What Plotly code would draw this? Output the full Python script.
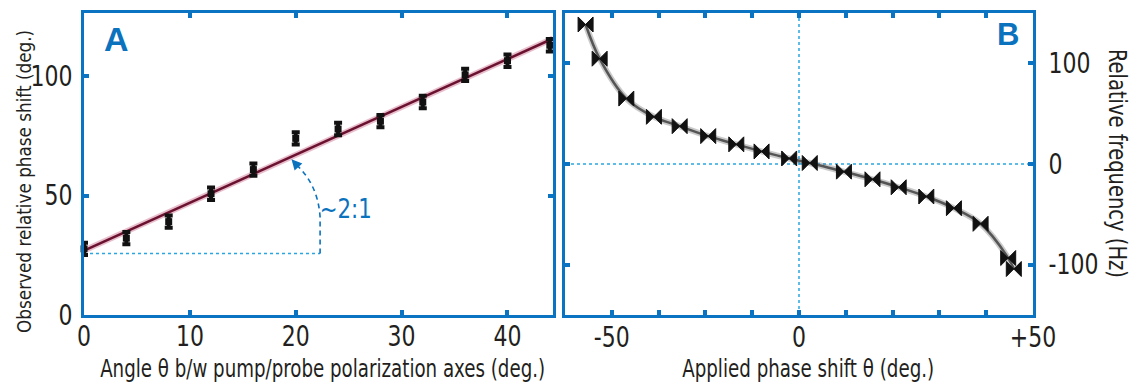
import numpy as np
import plotly.graph_objects as go

# ---------------- data ----------------
# Panel A: angle between pump/probe polarization axes vs observed phase shift
a_theta = [0, 4, 8, 12, 16, 20, 24, 28, 32, 36, 40, 44]
a_shift = [27.7, 32.2, 39.1, 50.8, 60.9, 74.0, 77.9, 81.2, 89.2, 100.6, 106.5, 113.0]
a_err = [2.6, 2.6, 2.6, 2.6, 2.6, 2.6, 2.6, 2.6, 2.6, 2.6, 2.6, 2.6]

# Panel B: applied phase shift vs relative frequency
b_theta = [-45.6, -42.6, -36.9, -31.0, -25.5, -19.4, -13.4, -8.0, -2.1, 2.3,
           9.6, 15.7, 21.3, 27.2, 33.1, 38.8, 44.7, 45.9]
b_freq = [138.6, 104.6, 65.0, 46.9, 37.6, 27.7, 19.5, 12.5, 5.5, 1.0,
          -7.6, -15.2, -23.1, -32.3, -43.9, -59.4, -93.4, -104.3]

# tick labels
a_xticks = [0, 10, 20, 30, 40]
a_yticks = [0, 50, 100]
b_xtickvals = [-50, -40, -30, -20, -10, 0, 10, 20, 30, 40, 50]
b_xticktext = ["", "-50", "", "", "", "0", "", "", "", "", "+50"]
b_ytickvals = [-100, 0, 100]
b_yticktext = ["-100", "0", "100"]

# ---------------- style ----------------
W, H = 1142, 386
L, R, T, B = 84, 1033, 10, 315
FRAME = "#0a73c2"
LIGHT = "#2aa7e1"
DARKBLUE = "#0b72bd"
TXT = "#231f20"
FONT = "DejaVu Sans Condensed, Liberation Sans Narrow, sans-serif"

def px(xp):
    return (xp - L) / (R - L)

def py(yp):
    return (B - yp) / (B - T)

A_XMAX = 44.3
dom_a = [0, px(553)]
dom_b = [px(565), 1]

fig = go.Figure()

# Fit line for panel A
coef = np.polyfit(a_theta, a_shift, 1)
fx = np.array([0.0, A_XMAX])
fy = np.polyval(coef, fx)
fig.add_trace(go.Scatter(x=fx, y=fy, mode="lines", xaxis="x", yaxis="y",
                         line=dict(color="rgba(190,70,110,0.35)", width=6),
                         hoverinfo="skip", showlegend=False))
fig.add_trace(go.Scatter(x=fx, y=fy, mode="lines", xaxis="x", yaxis="y",
                         line=dict(color="#6a1230", width=2.5),
                         hoverinfo="skip", showlegend=False))

fig.add_trace(go.Scatter(x=a_theta, y=a_shift, mode="markers", xaxis="x", yaxis="y",
                         marker=dict(symbol="square", size=7, color="#111"),
                         error_y=dict(type="data", array=a_err, color="#111",
                                      thickness=4, width=4),
                         cliponaxis=False, showlegend=False))

# Panel B curve + points
fig.add_trace(go.Scatter(x=b_theta, y=b_freq, mode="lines", xaxis="x2", yaxis="y2",
                         line=dict(color="rgba(80,80,80,0.3)", width=6, shape="spline"),
                         hoverinfo="skip", showlegend=False))
fig.add_trace(go.Scatter(x=b_theta, y=b_freq, mode="lines+markers", xaxis="x2", yaxis="y2",
                         line=dict(color="#555", width=2.5, shape="spline"),
                         marker=dict(symbol="bowtie", size=15, color="#111",
                                     line=dict(color="#111", width=1)),
                         cliponaxis=False, showlegend=False))

axis_common = dict(showline=True, linecolor=FRAME, linewidth=3, mirror="ticks",
                   ticks="inside", ticklen=5, tickwidth=4, tickcolor=FRAME,
                   showgrid=False, zeroline=False,
                   tickfont=dict(family=FONT, size=28, color=TXT))

fig.update_layout(
    width=W, height=H,
    margin=dict(l=L, r=W - R, t=T, b=H - B, pad=0),
    paper_bgcolor="white", plot_bgcolor="white",
    xaxis=dict(domain=dom_a, range=[0, A_XMAX], anchor="y", tickmode="array",
               tickvals=a_xticks, ticklabelstandoff=-6, **axis_common),
    yaxis=dict(domain=[0, 1], range=[0, 126.5], anchor="x", tickmode="array",
               tickvals=a_yticks, ticklabelstandoff=3, **axis_common),
    xaxis2=dict(domain=dom_b, range=[-50, 50], anchor="y2", tickmode="array",
                tickvals=b_xtickvals, ticktext=b_xticktext, ticklabelstandoff=-5,
                **axis_common),
    yaxis2=dict(domain=[0, 1], range=[-150, 150], anchor="x2", side="right",
                tickmode="array", tickvals=b_ytickvals, ticktext=b_yticktext,
                ticklabelstandoff=7, **axis_common),
)

# Panel B guide lines
fig.add_shape(type="line", xref="x2", yref="y2", x0=0, x1=0, y0=-150, y1=150,
              line=dict(color=LIGHT, width=1.5, dash="3px,3px"), layer="below")
fig.add_shape(type="line", xref="x2", yref="y2", x0=-50, x1=50, y0=0, y1=0,
              line=dict(color=LIGHT, width=1.5, dash="3px,3px"), layer="below")

# Panel A slope guide
base_y = 25.8
corner_x = 22.3
fig.add_shape(type="line", xref="x", yref="y", x0=0, x1=corner_x, y0=base_y, y1=base_y,
              line=dict(color=LIGHT, width=1.5, dash="3px,3px"), layer="below")
fig.add_shape(type="path", xref="x", yref="y",
              path=f"M {corner_x},{base_y} L {corner_x},41 Q 22.1,55 19.9,63.6",
              line=dict(color=DARKBLUE, width=1.6, dash="5px,4px"))
fig.add_annotation(x=19.6, y=65.2, xref="x", yref="y", ax=20.25, ay=62.0,
                   axref="x", ayref="y", text="", showarrow=True, arrowhead=2,
                   arrowsize=1.3, arrowwidth=1.6, arrowcolor=DARKBLUE)
fig.add_annotation(x=24.7, y=44.5, xref="x", yref="y", text="~2:1",
                   showarrow=False, xanchor="center", yanchor="middle",
                   font=dict(family=FONT, size=27, color=DARKBLUE))

# Panel letters
fig.add_annotation(x=px(102), y=py(36), xref="paper", yref="paper", text="<b>A</b>",
                   showarrow=False, xanchor="left", yanchor="middle",
                   font=dict(family="Liberation Sans, Arial, sans-serif", size=34, color=DARKBLUE))
fig.add_annotation(x=px(1021), y=py(32), xref="paper", yref="paper", text="<b>B</b>",
                   showarrow=False, xanchor="right", yanchor="middle",
                   font=dict(family="Liberation Sans, Arial, sans-serif", size=31, color=DARKBLUE))

# Axis titles
tfont = dict(family=FONT, size=25, color=TXT)
fig.add_annotation(x=px(322), y=py(369), xref="paper", yref="paper",
                   text="Angle θ b/w pump/probe polarization axes (deg.)",
                   showarrow=False, xanchor="center", yanchor="middle", font=tfont)
fig.add_annotation(x=px(24), y=py(180), xref="paper", yref="paper",
                   text="Observed relative phase shift (deg.)", textangle=-90,
                   showarrow=False, xanchor="center", yanchor="middle",
                   font=dict(family=FONT, size=19, color=TXT))
fig.add_annotation(x=px(808), y=py(369), xref="paper", yref="paper",
                   text="Applied phase shift θ (deg.)",
                   showarrow=False, xanchor="center", yanchor="middle", font=tfont)
fig.add_annotation(x=px(1117), y=py(162), xref="paper", yref="paper",
                   text="Relative frequency (Hz)", textangle=90,
                   showarrow=False, xanchor="center", yanchor="middle", font=tfont)

# Condense the text horizontally (the reference uses a condensed typeface)
post_js = r"""
var gd = document.getElementById('{plot_id}');
function squeeze() {
  var targets = {'Angle': 445, 'Observed': 303, 'Applied': 252, 'Relative': 229, '~2:1': 52};
  gd.querySelectorAll('text.annotation-text').forEach(function (t) {
    if (t.getAttribute('data-sq')) return;
    var k = (t.textContent || '').split(' ')[0];
    if (targets.hasOwnProperty(k)) {
      t.setAttribute('textLength', targets[k]);
      t.setAttribute('lengthAdjust', 'spacingAndGlyphs');
      t.setAttribute('data-sq', '1');
    }
  });
  var ticks = gd.querySelectorAll('g.xtick text, g.ytick text, g.x2tick text, g.y2tick text');
  var ref = null;
  ticks.forEach(function (t) {
    if (ref === null && t.textContent === '0' && !t.getAttribute('data-sq')) {
      ref = t.getComputedTextLength();
    }
  });
  if (!ref) return;
  var s = 14.0 / ref;
  ticks.forEach(function (t) {
    if (t.getAttribute('data-sq')) return;
    var w = t.getComputedTextLength();
    if (w > 0) {
      t.setAttribute('textLength', w * s);
      t.setAttribute('lengthAdjust', 'spacingAndGlyphs');
      t.setAttribute('data-sq', '1');
    }
  });
}
squeeze();
gd.on('plotly_afterplot', squeeze);
"""

fig.write_html("out.html", post_script=post_js)
